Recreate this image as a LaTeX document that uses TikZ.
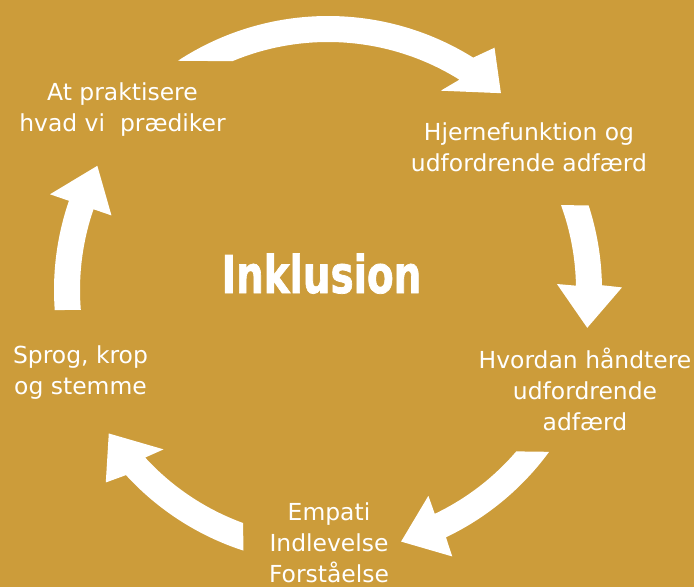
\documentclass[tikz,border=0pt]{standalone}
\usepackage{fontspec}
\setmainfont{DejaVu Sans}
\newfontfamily\titlefont{DejaVu Sans Condensed}[BoldFeatures={FakeBold=1.5}]
\definecolor{mustard}{RGB}{204,156,58}
\tikzset{
    stage text/.style={
            text=white, align=center, anchor=north, inner sep=0pt,
            font=\fontsize{20}{26.7}\selectfont
        },
    pics/ring arrow/.style n args={4}{
            code={
                    \fill[white] (#1:274) arc[start angle=#1, end angle=#3, radius=274]
                    -- (#3-#4:294) -- (#3-9.3:262) -- (#3+#4:229) -- (#3:248)
                    arc[start angle=#3, end angle=#2, radius=248] -- cycle;
                }
        },
}
\begin{document}
\begin{tikzpicture}[x=0.03cm, y=0.03cm]
        %draw background
        \fill[mustard] (0, 0) rectangle (694, -587);
        \useasboundingbox (0, 0) rectangle (694, -587);
        \coordinate (hub) at (328, -290);
        %draw arrows
        \pic at (hub) {ring arrow={123.2}{112.7}{58}{2.5}};
        \pic at (hub) {ring arrow={18}{20}{1}{0.5}};
        \pic at (hub) {ring arrow={-36.2}{-40.6}{-64.5}{0.5}};
        \pic at (hub) {ring arrow={-108}{-110}{-137.5}{1.6}};
        \pic at (hub) {ring arrow={184.2}{184.6}{161}{0}};
        %draw texts
        \node[stage text] (practice) at (122.5, -82.3) {At praktisere\\hvad vi\ \ prædiker};
        \node[stage text] (brain) at (529, -122.6) {Hjernefunktion og\\udfordrende adfærd};
        \node[stage text] (handle) at (585, -347.3) {Hvordan håndtere\\udfordrende\\adfærd};
        \node[stage text] (empathy) at (329, -502.3) {Empati\\Indlevelse\\Forståelse};
        \node[stage text] (language) at (80.5, -345.3) {Sprog, krop\\og stemme};
        \node[text=white, anchor=base, inner sep=0pt, font=\titlefont\bfseries\fontsize{44.4}{50}\selectfont] (inclusion) at (321.5, -293) {\scalebox{0.83}[1]{Inklusion}};
    \end{tikzpicture}
\end{document}
